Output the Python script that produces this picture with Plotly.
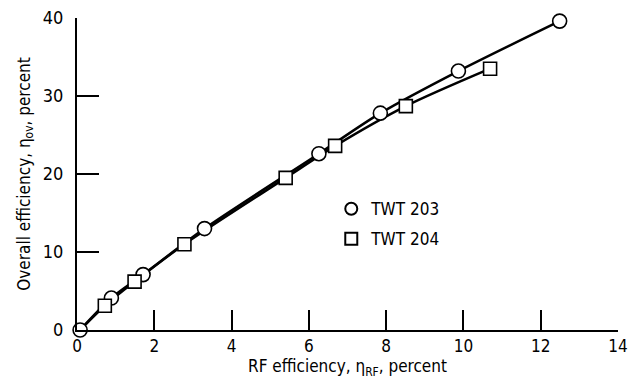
import plotly.graph_objects as go

# TWT 203 (circles)
rf_203 = [0.08, 0.89, 1.71, 3.30, 6.26, 7.85, 9.87, 12.49]
ov_203 = [0.0, 4.1, 7.1, 13.0, 22.6, 27.8, 33.2, 39.6]
# TWT 204 (squares)
rf_204 = [0.72, 1.49, 2.78, 5.40, 6.68, 8.51, 10.69]
ov_204 = [3.1, 6.2, 11.0, 19.5, 23.6, 28.7, 33.5]
# faired curve for TWT 204 starts at the common origin point
rf_204_curve = [0.08] + rf_204
ov_204_curve = [0.0] + ov_204

x_ticks = [0, 2, 4, 6, 8, 10, 12, 14]
y_ticks = [0, 10, 20, 30, 40]

FONT = "DejaVu Sans Condensed, Liberation Sans Narrow, sans-serif"

fig = go.Figure()
fig.add_trace(go.Scatter(x=rf_203, y=ov_203, mode="lines", line=dict(color="black", width=2.5, shape="spline", smoothing=0.8),
                         showlegend=False, hoverinfo="skip", cliponaxis=False))
fig.add_trace(go.Scatter(x=rf_204_curve, y=ov_204_curve, mode="lines", line=dict(color="black", width=2.5, shape="spline", smoothing=0.8),
                         showlegend=False, hoverinfo="skip", cliponaxis=False))
fig.add_trace(go.Scatter(x=rf_203, y=ov_203, mode="markers", name="TWT 203", legendgroup="a",
                         marker=dict(symbol="circle", size=14, color="white", line=dict(color="black", width=1.6)),
                         cliponaxis=False))
fig.add_trace(go.Scatter(x=rf_204, y=ov_204, mode="markers", name="TWT 204", legendgroup="b",
                         marker=dict(symbol="square", size=13, color="white", line=dict(color="black", width=1.6)),
                         cliponaxis=False))

fig.update_layout(
    width=628, height=387,
    margin=dict(l=77, r=10, t=18, b=57),
    paper_bgcolor="white", plot_bgcolor="white",
    font=dict(family=FONT, size=17, color="black"),
    legend=dict(x=0.47, y=0.445, xanchor="left", yanchor="top", tracegroupgap=5,
                bgcolor="rgba(0,0,0,0)", font=dict(size=17), itemsizing="constant"),
)
fig.update_xaxes(range=[0, 14], tickvals=x_ticks, ticktext=[str(v) for v in x_ticks],
                 showline=True, linecolor="black", linewidth=2, ticks="inside", ticklen=20, tickwidth=2,
                 tickcolor="black", showgrid=False, zeroline=False, mirror=False, automargin=False,
                 ticklabeloverflow="allow", tickfont=dict(size=17),
                 title=dict(text="RF efficiency, η<sub>RF</sub>, percent", font=dict(size=17), standoff=4))
fig.update_yaxes(range=[0, 40], tickvals=y_ticks, ticktext=[str(v) for v in y_ticks],
                 showline=True, linecolor="black", linewidth=2, ticks="inside", ticklen=22, tickwidth=2,
                 tickcolor="black", showgrid=False, zeroline=False, mirror=False, automargin=False,
                 ticklabelstandoff=8, tickfont=dict(size=18),
                 title=dict(text="Overall efficiency, η<sub>ov</sub>, percent", font=dict(size=17), standoff=8))

fig.write_html("out.html")
